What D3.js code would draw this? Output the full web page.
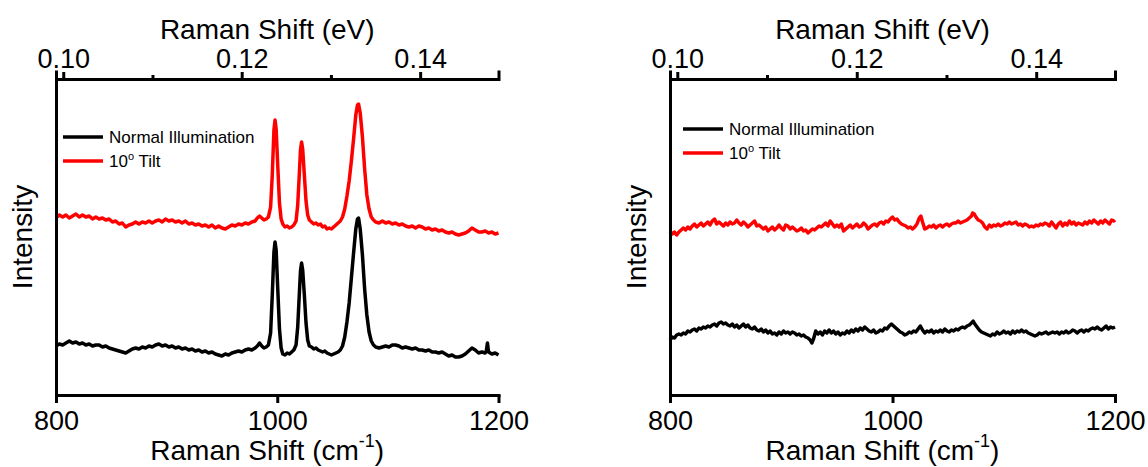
<!DOCTYPE html>
<html>
<head>
<meta charset="utf-8">
<script src="https://cdn.jsdelivr.net/npm/d3@7"></script>
<style>
  body { margin: 0; background: #fff; }
  text { font-family: "Liberation Sans", Arial, sans-serif; fill: #000; }
</style>
</head>
<body>
<script>
// spectra: [Raman shift cm-1, intensity a.u.]
var normalLeft = [[800,49],[803,51],[806,50],[809,52],[812,54],[815,52],[818,53],[821,51],[824,52],[827,50],[830,51],[833,49],[836,50],[839,50],[842,48],[845,49],[848,47],[851,46],[854,45],[857,44],[860,43],[863,42],[866,44],[869,46],[872,47],[875,46],[878,48],[881,47],[884,49],[887,48],[890,50],[893,51],[896,49],[899,50],[902,48],[905,49],[908,47],[911,48],[914,46],[917,47],[920,45],[923,46],[926,44],[929,45],[932,43],[935,44],[938,42],[941,43],[944,41],[947,40],[950,39],[953,41],[956,40],[959,42],[962,43],[965,44],[968,43],[971,45],[974,46],[977,45],[980,47],[982,49],[984,52],[986,49],[988,47],[990,48],[992,50],[994,62],[995.5,100],[997,143],[998,153],[999,145],[1000.5,105],[1002,66],[1003.5,47],[1005,41],[1007,40],[1009,42],[1011,41],[1013,43],[1015,45],[1017,50],[1018.5,68],[1020,102],[1021,124],[1022,132],[1023,125],[1024.5,100],[1026,72],[1027.5,55],[1029,49],[1031,48],[1033,46],[1035,47],[1037,45],[1039,44],[1041,43],[1043,44],[1045,42],[1047,41],[1049,40],[1051,41],[1053,42],[1055,43],[1057,45],[1059,49],[1061,58],[1063,73],[1065,92],[1067,117],[1069,142],[1071,166],[1072.5,176],[1073.5,177],[1075,166],[1077,140],[1079,106],[1081,80],[1083,63],[1085,54],[1087,50],[1089,48],[1092,47],[1095,48],[1098,49],[1101,48],[1104,50],[1107,50],[1110,49],[1113,47],[1116,48],[1119,47],[1122,46],[1125,47],[1128,45],[1131,45],[1134,44],[1137,45],[1140,43],[1143,43],[1146,42],[1149,43],[1152,41],[1155,39],[1158,40],[1161,38],[1164,38],[1167,39],[1170,41],[1173,44],[1176,47],[1179,45],[1182,42],[1185,43],[1188,42],[1189,44],[1190,52],[1191,43],[1194,41],[1197,42],[1200,40]];

var tiltLeft = [[800,177],[803,180],[806,178],[809,180],[812,177],[815,179],[818,181],[821,178],[824,180],[827,178],[830,179],[833,176],[836,178],[839,176],[842,177],[845,175],[848,176],[851,173],[854,174],[857,171],[860,172],[863,168],[866,170],[869,171],[872,173],[875,171],[878,173],[881,172],[884,174],[887,172],[890,174],[893,175],[896,173],[899,176],[902,174],[905,175],[908,173],[911,174],[914,172],[917,174],[920,171],[923,172],[926,170],[929,171],[932,169],[935,170],[938,168],[941,170],[944,167],[947,169],[950,167],[953,166],[956,168],[959,170],[962,169],[965,171],[968,170],[971,172],[974,171],[977,173],[980,174],[982,177],[984,179],[986,177],[988,175],[990,176],[992,178],[994,188],[995.5,220],[997,265],[998,275],[999,266],[1000.5,228],[1002,192],[1003.5,176],[1005,171],[1007,168],[1009,169],[1011,167],[1013,168],[1015,170],[1017,174],[1018.5,190],[1020,222],[1021,245],[1022,253],[1023,246],[1024.5,220],[1026,194],[1027.5,180],[1029,175],[1031,173],[1033,171],[1035,172],[1037,170],[1039,171],[1041,168],[1043,169],[1045,166],[1047,167],[1049,166],[1051,168],[1053,170],[1055,172],[1057,174],[1059,178],[1061,186],[1063,199],[1065,214],[1067,234],[1069,256],[1071,280],[1072.5,290],[1073.5,291],[1075,282],[1077,258],[1079,226],[1081,200],[1083,186],[1085,178],[1087,175],[1089,173],[1092,172],[1095,174],[1098,172],[1101,173],[1104,171],[1107,172],[1110,170],[1113,171],[1116,169],[1119,168],[1122,169],[1125,167],[1128,169],[1131,168],[1134,166],[1137,167],[1140,165],[1143,166],[1146,164],[1149,165],[1152,163],[1155,162],[1158,163],[1161,161],[1164,160],[1167,161],[1170,162],[1173,164],[1176,167],[1179,165],[1182,163],[1185,163],[1188,164],[1191,162],[1194,163],[1197,161],[1200,162]];

var normalRight = [[800,55],[802,58],[804,57],[806,60],[808,61],[810,60],[812,62],[814,61],[816,64],[818,63],[820,65],[822,66],[824,64],[826,67],[828,66],[830,68],[832,67],[834,69],[836,68],[838,70],[840,71],[842,69],[844,72],[846,73],[848,71],[850,72],[852,70],[854,69],[856,71],[858,68],[860,70],[862,67],[864,69],[866,71],[868,68],[870,70],[872,67],[874,66],[876,68],[878,65],[880,64],[882,66],[884,63],[886,65],[888,62],[890,64],[892,61],[894,62],[896,60],[898,63],[900,61],[902,64],[904,62],[906,63],[908,61],[910,63],[912,62],[914,60],[916,61],[918,59],[920,60],[922,58],[924,57],[926,55],[927.5,52],[929,56],[931,64],[933,61],[935,63],[937,60],[939,64],[941,62],[943,65],[945,62],[947,64],[949,61],[951,63],[953,60],[955,62],[957,61],[959,64],[961,62],[963,65],[965,63],[967,66],[969,64],[971,67],[973,65],[975,68],[977,66],[979,64],[981,63],[983,65],[985,62],[987,63],[989,65],[991,64],[993,67],[995,66],[997,69],[999,71],[1001,69],[1003,67],[1005,65],[1007,63],[1009,62],[1011,60],[1013,61],[1015,63],[1017,62],[1019,64],[1021,63],[1023,66],[1025,69],[1027,65],[1029,62],[1031,64],[1033,63],[1035,65],[1037,62],[1039,64],[1041,63],[1043,65],[1045,63],[1047,66],[1049,64],[1051,63],[1053,65],[1055,64],[1057,66],[1059,65],[1061,67],[1063,68],[1065,67],[1067,69],[1069,70],[1071,72],[1072.5,74],[1074,71],[1076,68],[1078,65],[1080,63],[1082,62],[1084,61],[1086,60],[1088,59],[1090,61],[1092,60],[1094,63],[1096,61],[1098,62],[1100,64],[1102,62],[1104,63],[1106,61],[1108,64],[1110,62],[1112,64],[1114,63],[1116,65],[1118,63],[1120,64],[1122,62],[1124,61],[1126,60],[1128,59],[1130,60],[1132,62],[1134,61],[1136,62],[1138,63],[1140,61],[1142,62],[1144,63],[1146,62],[1148,63],[1150,61],[1152,63],[1154,62],[1156,64],[1158,62],[1160,63],[1162,65],[1164,64],[1166,62],[1168,64],[1170,65],[1172,63],[1174,65],[1176,64],[1178,66],[1180,67],[1182,66],[1184,68],[1186,66],[1188,65],[1190,67],[1192,69],[1194,66],[1196,68],[1198,67],[1200,68]];

var tiltRight = [[800,164],[802,161],[804,163],[806,160],[808,163],[810,165],[812,167],[814,165],[816,168],[818,166],[820,169],[822,171],[824,168],[826,170],[828,172],[830,169],[832,171],[834,173],[836,170],[838,174],[840,176],[842,171],[844,173],[846,171],[848,169],[850,172],[852,170],[854,173],[856,171],[858,172],[860,175],[862,172],[864,170],[866,173],[868,171],[870,168],[872,170],[874,172],[876,174],[878,169],[880,170],[882,168],[884,166],[886,168],[888,164],[890,166],[892,168],[894,165],[896,167],[898,170],[900,167],[902,165],[904,170],[906,169],[908,166],[910,168],[912,166],[914,164],[916,165],[918,167],[920,164],[922,165],[924,162],[926,164],[928,166],[930,165],[932,167],[934,169],[936,168],[938,170],[940,172],[942,169],[944,174],[946,171],[948,168],[950,170],[952,168],[954,171],[956,164],[958,166],[960,168],[962,170],[964,167],[966,169],[968,171],[970,168],[972,169],[974,172],[976,170],[978,166],[980,168],[982,170],[984,171],[986,169],[988,172],[990,173],[992,171],[994,174],[996,173],[998,176],[1000,178],[1002,175],[1004,176],[1006,173],[1008,171],[1010,170],[1012,169],[1014,167],[1016,168],[1018,166],[1020,168],[1022,171],[1024,177],[1025.5,179],[1027,173],[1029,166],[1031,167],[1033,169],[1035,168],[1037,170],[1039,167],[1041,169],[1043,170],[1045,168],[1047,170],[1049,171],[1051,169],[1053,171],[1055,172],[1057,172],[1059,174],[1061,172],[1063,173],[1065,174],[1067,175],[1069,177],[1071,179],[1072,182],[1073.5,181],[1075,178],[1077,175],[1079,174],[1081,172],[1083,168],[1085,166],[1087,170],[1089,168],[1091,170],[1093,169],[1095,171],[1097,169],[1099,170],[1101,172],[1103,171],[1105,173],[1107,171],[1109,172],[1111,173],[1113,170],[1115,171],[1117,169],[1119,171],[1121,170],[1123,168],[1125,169],[1127,168],[1129,170],[1131,169],[1133,171],[1135,170],[1137,172],[1139,171],[1141,169],[1143,173],[1145,170],[1147,167],[1149,171],[1151,173],[1153,169],[1155,172],[1157,170],[1159,174],[1161,171],[1163,173],[1165,170],[1167,172],[1169,171],[1171,170],[1173,173],[1175,171],[1177,174],[1179,172],[1181,175],[1183,173],[1185,171],[1187,174],[1189,172],[1191,175],[1193,173],[1195,171],[1197,175],[1199,174],[1200,175]];

var cmTicks = [800, 1000, 1200];
var evTicks = [0.10, 0.11, 0.12, 0.13, 0.14];
var evLabelled = [0.10, 0.12, 0.14];
var legendNames = ["Normal Illumination", "10° Tilt"];
var colors = ["#000000", "#ff0000"];

var CM_PER_EV = 8065.54;

var width = 1148,
    height = 467;

var svg = d3.select("body").append("svg")
    .attr("width", width)
    .attr("height", height);

function isLabelled(d) {
    return evLabelled.some(function(v) { return Math.abs(v - d) < 1e-9; });
}

function drawPanel(x0, x1, series, legendX, legendY) {
    var top = 79, bottom = 395;

    var x = d3.scaleLinear().domain([800, 1200]).range([x0, x1]);
    var xEv = d3.scaleLinear().domain([800 / CM_PER_EV, 1200 / CM_PER_EV]).range([x0, x1]);
    var y = d3.scaleLinear().domain([0, 316]).range([bottom, top]);

    var g = svg.append("g");

    // spectra
    var line = d3.line()
        .x(function(d) { return x(d[0]); })
        .y(function(d) { return y(d[1]); });

    g.selectAll(".spec")
        .data(series)
        .enter().append("path")
        .attr("class", "spec")
        .attr("d", line)
        .attr("fill", "none")
        .attr("stroke", function(d, i) { return colors[i]; })
        .attr("stroke-width", 3.5)
        .attr("stroke-linejoin", "round");

    // bottom axis (cm-1)
    var bAxis = g.append("g")
        .attr("transform", "translate(0," + bottom + ")")
        .call(d3.axisBottom(x).tickValues(cmTicks).tickFormat(d3.format("d"))
            .tickSize(8).tickSizeOuter(0).tickPadding(8));

    // top axis (eV), minor ticks unlabelled
    var tAxis = g.append("g")
        .attr("transform", "translate(0," + top + ")")
        .call(d3.axisTop(xEv).tickValues(evTicks).tickSizeOuter(0).tickSize(7).tickPadding(4)
            .tickFormat(function(d) { return isLabelled(d) ? d3.format(".2f")(d) : ""; }));
    tAxis.selectAll(".tick line")
        .attr("y2", function(d) { return isLabelled(d) ? -7 : -4; });

    // left axis, no ticks
    var lAxis = g.append("g")
        .attr("transform", "translate(" + x0 + ",0)")
        .call(d3.axisLeft(y).tickValues([]).tickSizeOuter(0));

    [bAxis, tAxis, lAxis].forEach(function(a) {
        a.select(".domain").attr("stroke-width", 3).attr("stroke-linecap", "square");
        a.selectAll(".tick line").attr("stroke-width", 3);
        a.selectAll(".tick text")
            .style("font-family", "'Liberation Sans', Arial, sans-serif")
            .style("font-size", "27px")
            .attr("fill", "#000");
    });

    var cx = (x0 + x1) / 2 - 10;

    // titles
    g.append("text")
        .attr("x", cx)
        .attr("y", 39)
        .attr("text-anchor", "middle")
        .style("font-size", "28px")
        .text("Raman Shift (eV)");

    var bt = g.append("text")
        .attr("x", cx)
        .attr("y", 460)
        .attr("text-anchor", "middle")
        .style("font-size", "28px");
    bt.append("tspan").text("Raman Shift (cm");
    bt.append("tspan").attr("dy", -13).style("font-size", "18px").text("-1");
    bt.append("tspan").attr("dy", 13).text(")");

    g.append("text")
        .attr("transform", "translate(" + (x0 - 24) + "," + ((top + bottom) / 2) + ") rotate(-90)")
        .attr("text-anchor", "middle")
        .style("font-size", "28px")
        .text("Intensity");

    // legend
    var leg = g.selectAll(".leg")
        .data(legendNames)
        .enter().append("g")
        .attr("class", "leg")
        .attr("transform", function(d, i) { return "translate(" + legendX + "," + (legendY + i * 24) + ")"; });

    leg.append("line")
        .attr("x1", 0).attr("x2", 40)
        .attr("stroke", function(d, i) { return colors[i]; })
        .attr("stroke-width", 3.5);

    leg.append("text")
        .attr("x", 46)
        .attr("dy", "0.36em")
        .style("font-size", "17px")
        .each(function(d) {
            var t = d3.select(this);
            if (d.indexOf("°") > -1) {
                t.append("tspan").text("10");
                t.append("tspan").attr("dy", -7).style("font-size", "11px").text("o");
                t.append("tspan").attr("dy", 7).text(" Tilt");
            } else {
                t.text(d);
            }
        });
}

drawPanel(56, 498.5, [normalLeft, tiltLeft], 63, 137);
drawPanel(670, 1115, [normalRight, tiltRight], 683, 129);
</script>
</body>
</html>
